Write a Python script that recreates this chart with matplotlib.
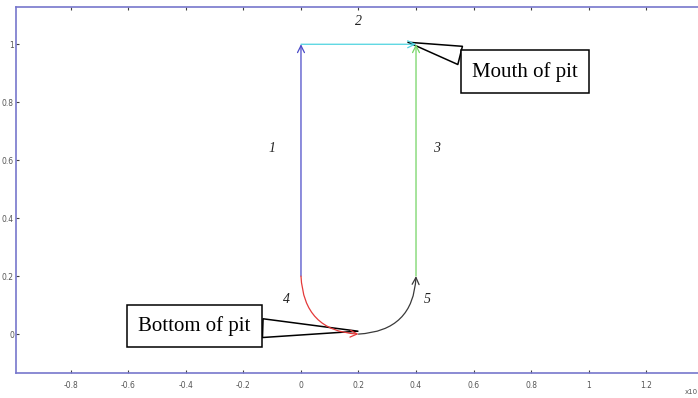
import numpy as np
import matplotlib.pyplot as plt
from matplotlib.patches import FancyArrowPatch

# boundary segments of the pit (start point, end point)
seg_labels = ["1", "2", "3", "4", "5"]
seg_start = [(0.0, 0.2), (0.0, 1.0), (0.4, 0.2), (0.0, 0.2), (0.2, 0.0)]
seg_end = [(0.0, 1.0), (0.4, 1.0), (0.4, 1.0), (0.2, 0.0), (0.4, 0.2)]
seg_colors = ["#4a4ac8", "#4fd4e0", "#74d464", "#e43a3a", "#3a3a3a"]
seg_bend = [0.0, 0.0, 0.0, 0.45, 0.45]   # arcs at the bottom of the pit
label_pos = [(-0.1, 0.64), (0.2, 1.08), (0.47, 0.64), (-0.05, 0.12), (0.44, 0.12)]

xticks = [-0.8, -0.6, -0.4, -0.2, 0, 0.2, 0.4, 0.6, 0.8, 1, 1.2]
yticks = [0, 0.2, 0.4, 0.6, 0.8, 1]

fig = plt.figure(figsize=(6.98, 3.98), dpi=100)
ax = fig.add_axes([0.0229, 0.063, 1.0086, 0.919])
ax.set_xlim(-0.991, 1.457)
ax.set_ylim(-0.134, 1.128)

for s, e, c, b in zip(seg_start, seg_end, seg_colors, seg_bend):
    arr = FancyArrowPatch(s, e, arrowstyle="->,head_length=5,head_width=2.5",
                          connectionstyle="arc3,rad=%g" % b, color=c, lw=0.9,
                          shrinkA=0, shrinkB=0, zorder=4)
    ax.add_patch(arr)

for lab, (x, y) in zip(seg_labels, label_pos):
    ax.text(x, y, lab, family="Liberation Serif", style="italic", fontsize=10,
            ha="center", va="center", color="#222222")

# callouts
box = dict(boxstyle="square,pad=0.55", fc="white", ec="black", lw=1.1)
tail = dict(arrowstyle="wedge,tail_width=0.9,shrink_factor=0.5",
            fc="white", ec="black", lw=1.1, shrinkA=0, shrinkB=0)
ax.annotate("Mouth of pit", xy=(0.372, 1.007), xytext=(0.779, 0.905),
            family="Liberation Serif", fontsize=15, ha="center", va="center",
            bbox=box, arrowprops=tail)
ax.annotate("Bottom of pit", xy=(0.198, 0.01), xytext=(-0.37, 0.028),
            family="Liberation Serif", fontsize=15, ha="center", va="center",
            bbox=box, arrowprops=tail)

ax.set_xticks(xticks)
ax.set_xticklabels([("%g" % t) for t in xticks])
ax.set_yticks(yticks)
ax.set_yticklabels([("%g" % t) for t in yticks])
ax.tick_params(direction="in", length=2, width=0.8, color="#404040",
               labelsize=5.5, labelcolor="#555555", top=True)
ax.tick_params(axis="x", pad=6)
ax.tick_params(axis="y", pad=1.5)
for sp in ax.spines.values():
    sp.set_color("#7777cc")
    sp.set_linewidth(1.2)

fig.text(685 / 698, 1 - 392 / 398, "x10", fontsize=5, color="#555555", va="center")

fig.savefig("out.png", dpi=100)
